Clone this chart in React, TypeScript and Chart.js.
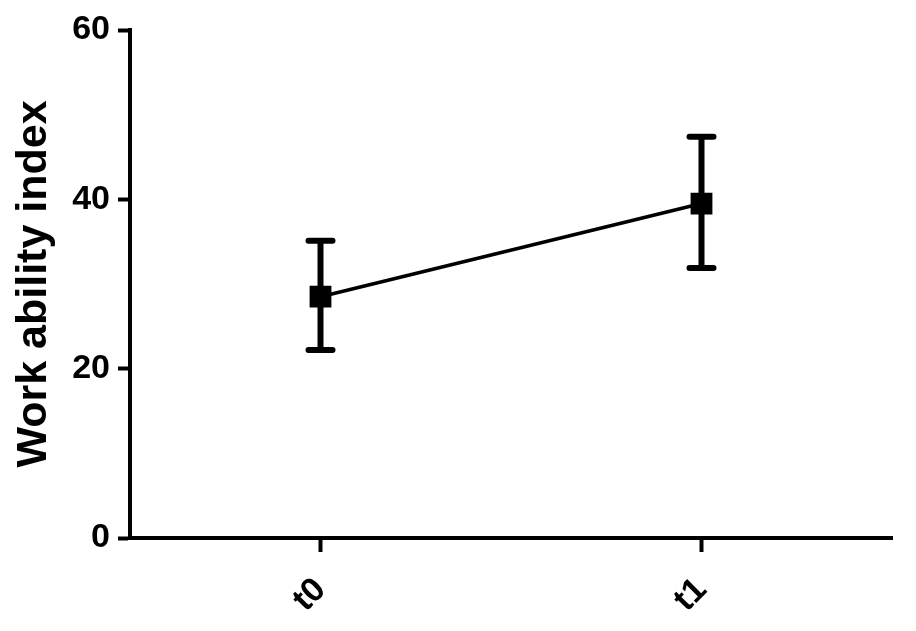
import React, { useEffect, useRef } from "react";
import { Chart, registerables } from "chart.js";

Chart.register(...registerables);

const categories: string[] = ["t0", "t1"];
const meanValues: number[] = [28.5, 39.5];
const errUpper: number[] = [35.1, 47.4];
const errLower: number[] = [22.2, 31.9];
const yTickValues: number[] = [0, 20, 40, 60];
const yTitle = "Work ability index";

const FONT = "'Liberation Sans', Arial, sans-serif";

const errorBarPlugin = {
  id: "errorBars",
  afterDatasetsDraw(chart: any) {
    const ctx = chart.ctx;
    const meta = chart.getDatasetMeta(0);
    const yScale = chart.scales.y;
    ctx.save();
    ctx.strokeStyle = "#000";
    meta.data.forEach((pt: any, i: number) => {
      const x = pt.x;
      const yTop = yScale.getPixelForValue(errUpper[i]);
      const yBot = yScale.getPixelForValue(errLower[i]);
      ctx.lineWidth = 6;
      ctx.lineCap = "butt";
      ctx.beginPath();
      ctx.moveTo(x, yTop);
      ctx.lineTo(x, yBot);
      ctx.stroke();
      ctx.lineCap = "round";
      ctx.lineWidth = 6;
      ctx.beginPath();
      ctx.moveTo(x - 12, yTop);
      ctx.lineTo(x + 12, yTop);
      ctx.moveTo(x - 12, yBot);
      ctx.lineTo(x + 12, yBot);
      ctx.stroke();
    });
    ctx.restore();
  },
};

export default function App() {
  const ref = useRef<HTMLCanvasElement | null>(null);
  useEffect(() => {
    if (!ref.current) return;
    const chart = new Chart(ref.current, {
      type: "line",
      data: {
        labels: categories,
        datasets: [
          {
            data: meanValues,
            borderColor: "#000",
            borderWidth: 3.5,
            backgroundColor: "#000",
            pointStyle: "rect",
            pointRadius: 14,
            pointBorderWidth: 2,
            pointBackgroundColor: "#000",
            pointBorderColor: "#000",
            tension: 0,
          },
        ],
      },
      options: {
        animation: false,
        responsive: true,
        maintainAspectRatio: false,
        layout: { padding: { top: 22, right: 8, left: 0, bottom: 0 } },
        plugins: { legend: { display: false }, tooltip: { enabled: false } },
        scales: {
          x: {
            type: "category",
            offset: true,
            border: { display: true, color: "#000", width: 4 },
            grid: {
              drawOnChartArea: false,
              drawTicks: true,
              tickLength: 14,
              tickWidth: 4,
              color: "#000",
              offset: false,
            },
            ticks: {
              color: "#000",
              font: { family: FONT, size: 34, weight: "bold" },
              maxRotation: 45,
              minRotation: 45,
              padding: 18,
            },
            afterFit: (s: any) => {
              s.height = 85;
              s.paddingLeft = 0;
              s.paddingRight = 0;
            },
          },
          y: {
            min: 0,
            max: 60,
            afterBuildTicks: (s: any) => {
              s.ticks = yTickValues.map((v) => ({ value: v }));
            },
            border: { display: true, color: "#000", width: 4 },
            grid: {
              drawOnChartArea: false,
              drawTicks: true,
              tickLength: 12,
              tickWidth: 4,
              color: "#000",
            },
            ticks: {
              color: "#000",
              font: { family: FONT, size: 34, weight: "bold" },
              padding: 8,
            },
            title: {
              display: true,
              text: yTitle,
              color: "#000",
              font: { family: FONT, size: 43, weight: "bold" },
              padding: { top: 0, bottom: 0 },
            },
            afterFit: (s: any) => {
              s.width = 122;
              s.paddingTop = 0;
              s.paddingBottom = 0;
            },
          },
        },
      },
      plugins: [errorBarPlugin],
    });
    return () => chart.destroy();
  }, []);
  return (
    <div style={{ width: 900, height: 615, position: "relative" }}>
      <canvas ref={ref} />
    </div>
  );
}
